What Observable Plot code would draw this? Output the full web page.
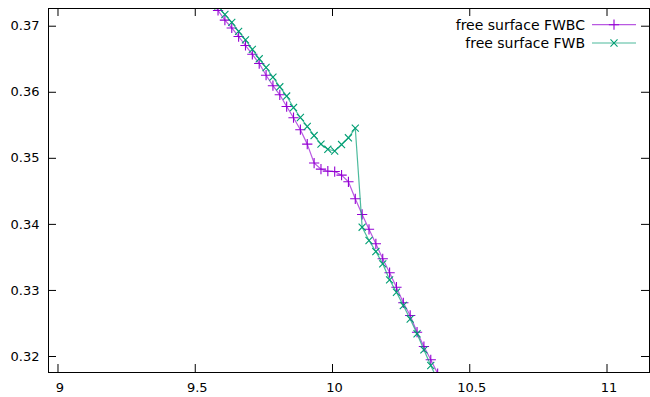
<!DOCTYPE html>
<html><head><meta charset="utf-8">
<script src="https://cdn.jsdelivr.net/npm/d3@7"></script>
<script src="https://cdn.jsdelivr.net/npm/@observablehq/plot@0.6"></script>
<style>body{margin:0;background:#fff} svg{display:block}</style>
</head><body><div id="chart"></div>
<script>
// ---- data ----
const xValues = [9.558, 9.583, 9.608, 9.633, 9.658, 9.683, 9.708, 9.733, 9.758, 9.783, 9.808,
  9.833, 9.858, 9.883, 9.908, 9.933, 9.958, 9.983, 10.008, 10.033, 10.058, 10.083,
  10.108, 10.133, 10.158, 10.183, 10.208, 10.233, 10.258, 10.283, 10.308, 10.333, 10.358, 10.383];
const fwbcValues = [0.37374, 0.37238, 0.37092, 0.36973, 0.36844, 0.36708, 0.36575, 0.36435, 0.36258, 0.36099, 0.35962,
  0.35784, 0.35615, 0.35433, 0.35215, 0.34929, 0.34837, 0.34805, 0.34800, 0.34746, 0.34645, 0.34387,
  0.34150, 0.33926, 0.33706, 0.33479, 0.33269, 0.33049, 0.32813, 0.32621, 0.32368, 0.32151, 0.31950, 0.31742];
const fwbValues = [0.37440, 0.37306, 0.37177, 0.37058, 0.36921, 0.36794, 0.36650, 0.36507, 0.36375, 0.36228, 0.36083,
  0.35943, 0.35769, 0.35618, 0.35482, 0.35345, 0.35214, 0.35137, 0.35111, 0.35209, 0.35311, 0.35456,
  0.33957, 0.33756, 0.33589, 0.33403, 0.33161, 0.32973, 0.32772, 0.32568, 0.32344, 0.32101, 0.31864, 0.31640];
const xTicks = [9, 9.5, 10, 10.5, 11];
const xTickLabels = ["9", "9.5", "10", "10.5", "11"];
const yTicks = [0.32, 0.33, 0.34, 0.35, 0.36, 0.37];
const yTickLabels = ["0.32", "0.33", "0.34", "0.35", "0.36", "0.37"];
const seriesNames = ["free surface FWBC", "free surface FWB"];

// ---- styles ----
const purple = "#9400d3", green = "#009e73";
const W = 650, H = 397, mL = 48, mR = 1, mT = 8, mB = 25;
const fw = W - mL - mR, fh = H - mT - mB, tickLen = 8;
const plusR = 3.4, timesR = 3.3;

const fwbc = xValues.map((x, i) => ({x, y: fwbcValues[i]}));
const fwb = xValues.map((x, i) => ({x, y: fwbValues[i]}));

const chart = Plot.plot({
  width: W, height: H,
  marginLeft: mL, marginRight: mR, marginTop: mT, marginBottom: mB,
  style: {fontFamily: "DejaVu Sans", fontSize: "13px", color: "#000", background: "#fff"},
  x: {domain: [8.9654, 11.1548]},
  y: {domain: [0.31758, 0.37268]},
  marks: [
    Plot.line(fwbc, {x: "x", y: "y", stroke: purple, strokeWidth: 1.2, strokeOpacity: 0.65, clip: true}),
    Plot.dot(fwbc, {x: "x", y: "y", symbol: "plus", r: plusR, stroke: purple, strokeWidth: 1.1, clip: true}),
    Plot.line(fwb, {x: "x", y: "y", stroke: green, strokeWidth: 1.2, strokeOpacity: 0.7, clip: true}),
    Plot.dot(fwb, {x: "x", y: "y", symbol: "times", r: timesR, stroke: green, strokeWidth: 1.1, clip: true}),
    // tick marks (inward, mirrored)
    Plot.tickX(xTicks, {x: d => d, insetTop: fh - tickLen, stroke: "#000"}),
    Plot.tickX(xTicks, {x: d => d, insetBottom: fh - tickLen, stroke: "#000"}),
    Plot.tickY(yTicks, {y: d => d, insetRight: fw - tickLen, stroke: "#000"}),
    Plot.tickY(yTicks, {y: d => d, insetLeft: fw - tickLen, stroke: "#000"}),
    Plot.axisX(xTicks, {anchor: "bottom", tickSize: 0, tickPadding: 10, label: null, fontSize: 13, dx: 2,
      tickFormat: d => xTickLabels[xTicks.indexOf(d)]}),
    Plot.axisY(yTicks, {anchor: "left", tickSize: 0, tickPadding: 9, label: null, fontSize: 13,
      tickFormat: d => yTickLabels[yTicks.indexOf(d)]}),
    Plot.frame({stroke: "#000", strokeWidth: 1})
  ]
});
document.getElementById("chart").appendChild(chart);

// ---- legend (gnuplot style, top right inside the frame) ----
const svg = d3.select(chart.tagName === "svg" ? chart : chart.querySelector("svg"));
const leg = svg.append("g").attr("font-family", "DejaVu Sans").attr("font-size", 14);
const rows = [
  {name: seriesNames[0], color: purple, sym: d3.symbolPlus, r: plusR, op: 0.65},
  {name: seriesNames[1], color: green, sym: d3.symbolTimes, r: timesR, op: 0.7}
];
rows.forEach((row, i) => {
  const cy = 24.7 + i * 18.3;
  leg.append("text").attr("x", 585).attr("y", cy).attr("dy", "0.35em")
    .attr("text-anchor", "end").attr("fill", "#000").text(row.name);
  leg.append("line").attr("x1", 592).attr("x2", 636).attr("y1", cy).attr("y2", cy)
    .attr("stroke", row.color).attr("stroke-width", 1.2).attr("stroke-opacity", row.op);
  leg.append("path").attr("transform", `translate(614,${cy})`)
    .attr("d", d3.symbol(row.sym, Math.PI * row.r * row.r)())
    .attr("fill", "none").attr("stroke", row.color).attr("stroke-width", 1.1);
});
</script>
</body></html>
